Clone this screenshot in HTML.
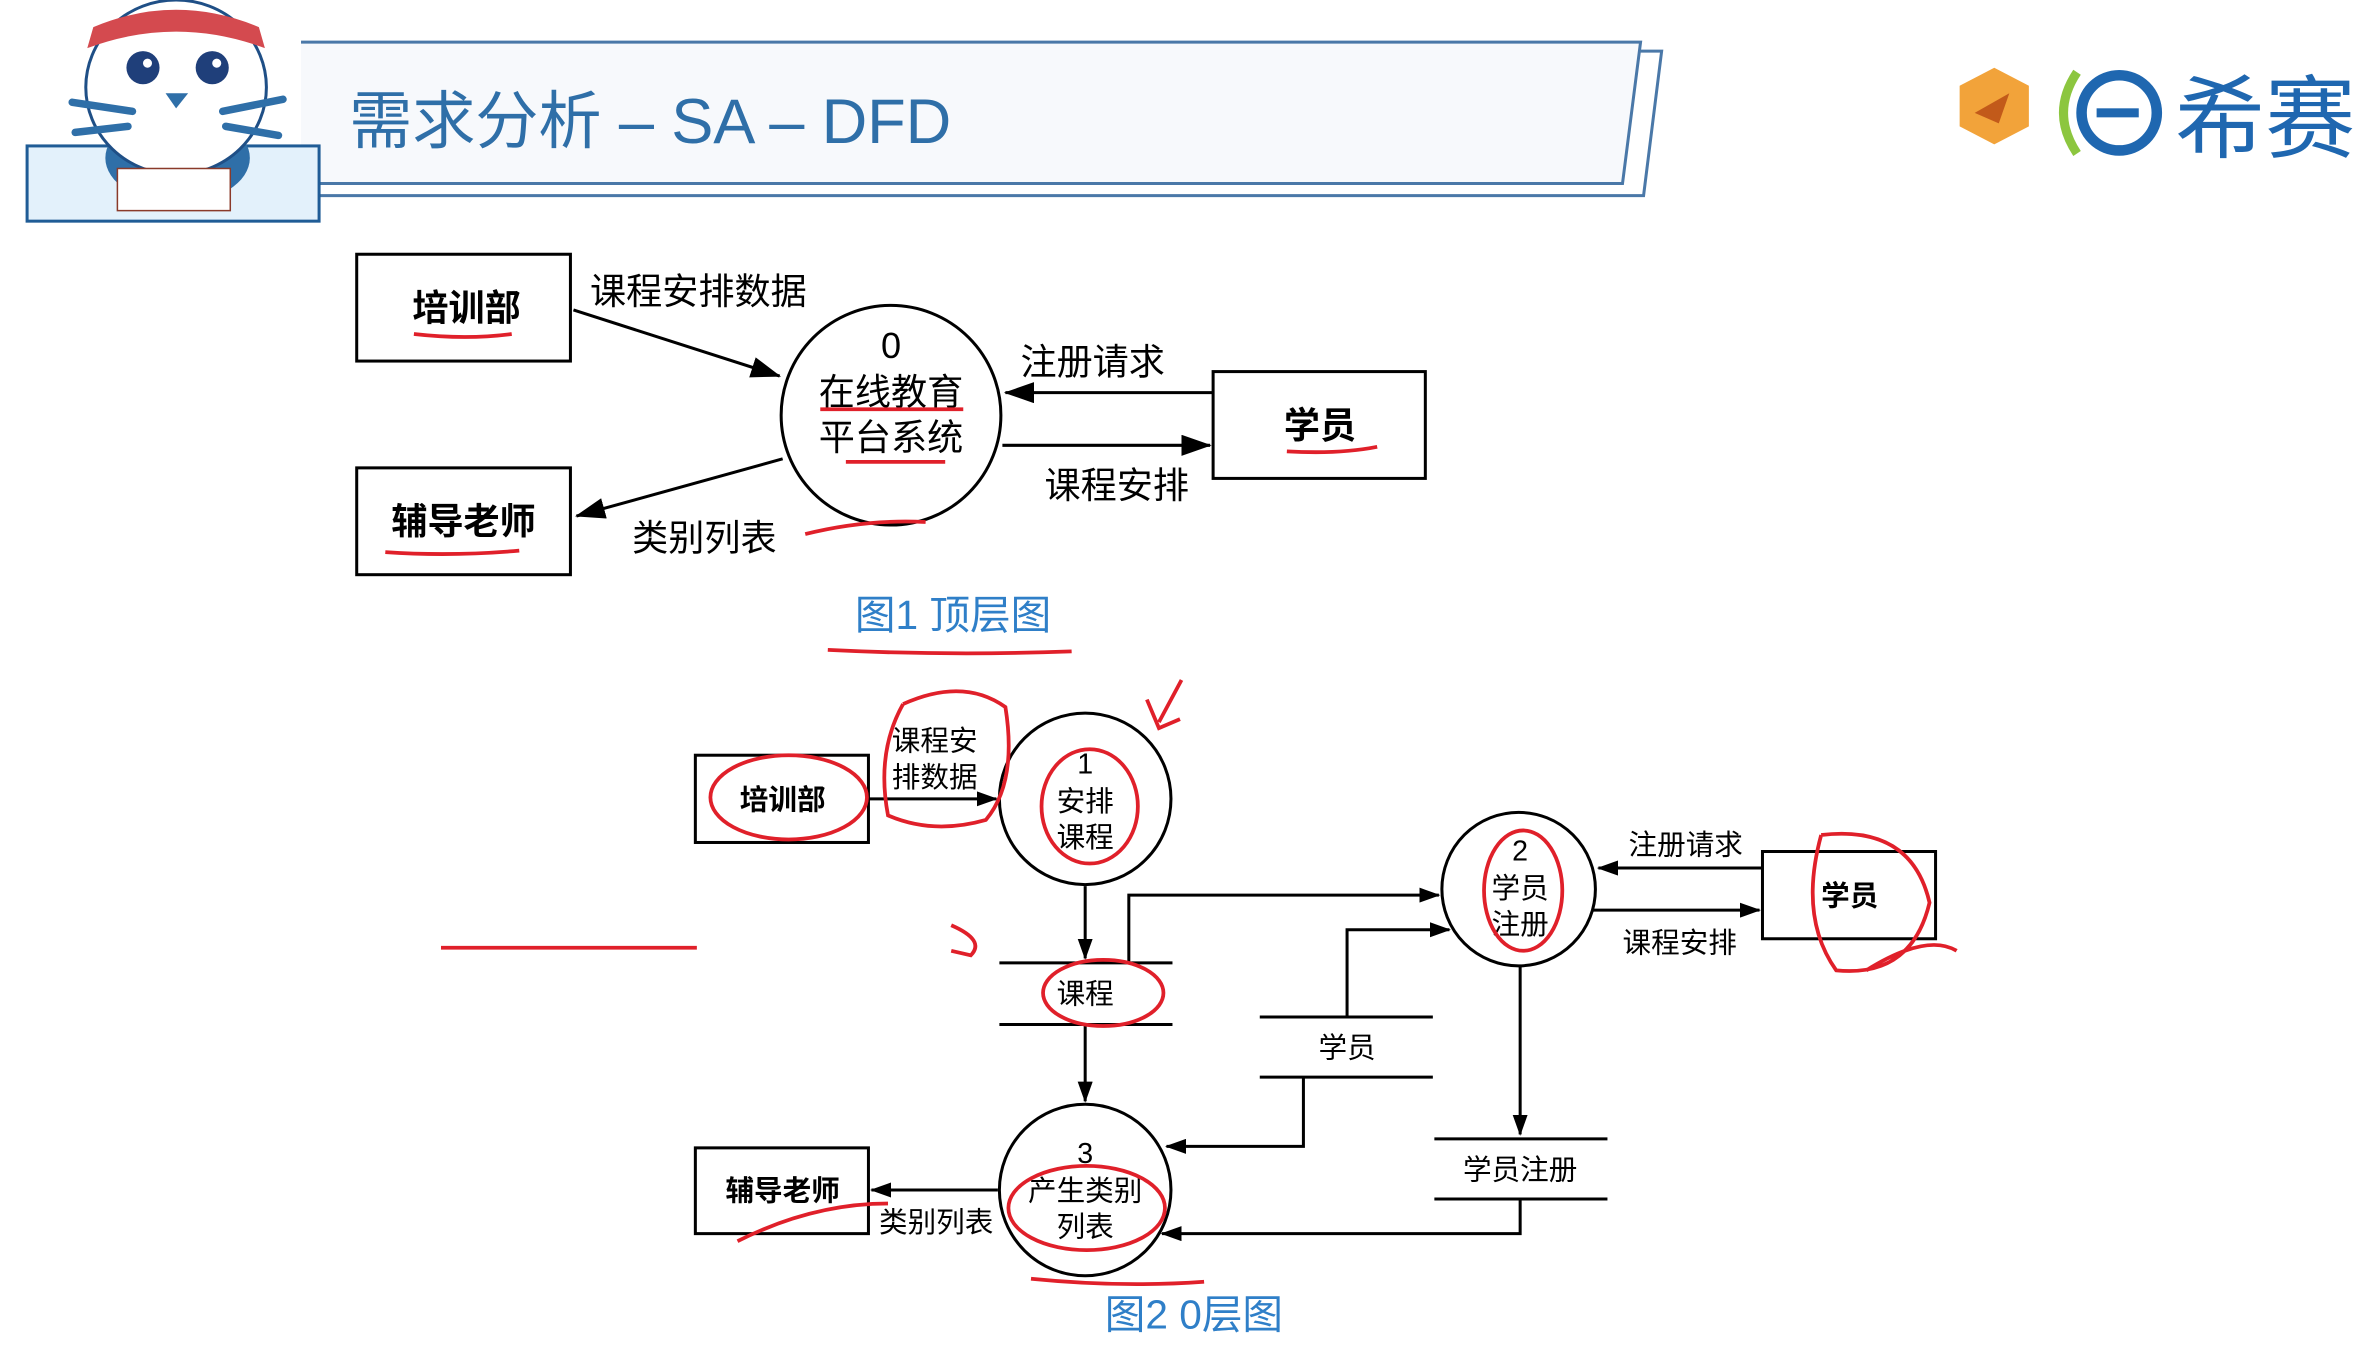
<!DOCTYPE html>
<html><head><meta charset="utf-8"><style>
html,body{margin:0;padding:0;background:#fff;}
svg{display:block;}
text{font-family:"Liberation Sans","Noto Sans CJK SC",sans-serif;}
</style></head><body>
<svg width="2360" height="1360" viewBox="0 0 1568 904" preserveAspectRatio="none" xmlns="http://www.w3.org/2000/svg">
<defs>
<marker id="a" markerWidth="14" markerHeight="10" refX="13" refY="5" orient="auto" markerUnits="userSpaceOnUse"><path d="M0,0 L14,5 L0,10 z" fill="#000"/></marker>
<marker id="b" markerWidth="20" markerHeight="14" refX="19" refY="7" orient="auto" markerUnits="userSpaceOnUse"><path d="M0,0 L20,7 L0,14 z" fill="#000"/></marker>
</defs>
<rect width="1568" height="904" fill="#fff"/>
<!-- header -->
<path d="M200,28 L1090,28 L1078,122 L200,122" fill="#f7f9fc" stroke="#4a78a8" stroke-width="2"/>
<path d="M1090,34 L1104,34 L1092,130 L200,130" fill="none" stroke="#4a78a8" stroke-width="2"/>
<text x="232" y="95" font-size="42" fill="#2f6fa8" textLength="400">需求分析 – SA – DFD</text>
<!-- mascot -->
<rect x="18" y="97" width="194" height="50" fill="#e3f1fb" stroke="#1f5c96" stroke-width="2"/>
<ellipse cx="118" cy="105" rx="48" ry="30" fill="#2f6fa8"/>
<ellipse cx="117" cy="58" rx="60" ry="58" fill="#fff" stroke="#1f4f86" stroke-width="2"/>
<path d="M62,18 Q117,-5 172,18 L176,32 Q117,10 58,32 z" fill="#d44a4f"/>
<circle cx="95" cy="45" r="11" fill="#1f3f7a"/><circle cx="141" cy="45" r="11" fill="#1f3f7a"/>
<circle cx="98" cy="42" r="3" fill="#fff"/><circle cx="144" cy="42" r="3" fill="#fff"/>
<path d="M110,62 L125,62 L117,72 z" fill="#2f6fa8"/>
<path d="M48,68 L88,74 M50,88 L85,84 M148,74 L188,66 M150,84 L185,90" stroke="#2f6fa8" stroke-width="5" stroke-linecap="round"/>
<rect x="78" y="112" width="75" height="28" fill="#fff" stroke="#8a3a2a"/>
<!-- logo -->
<polygon points="1325,45 1348,57 1348,84 1325,96 1302,84 1302,57" fill="#f2a33a"/>
<path d="M1312,75 L1335,62 L1328,82 z" fill="#c25a1a"/>
<path d="M1380,48 Q1362,75 1380,102" fill="none" stroke="#8cc63f" stroke-width="6"/>
<circle cx="1408" cy="75" r="25" fill="none" stroke="#1f67b0" stroke-width="7"/>
<rect x="1393" y="72" width="28" height="6" fill="#1f67b0"/>
<text x="1445" y="100" font-size="60" fill="#1f67b0">希赛</text>

<!-- Diagram 1 -->
<g stroke="#000" stroke-width="2" fill="none">
<rect x="237" y="169" width="142" height="71"/>
<rect x="237" y="311" width="142" height="71"/>
<rect x="806" y="247" width="141" height="71"/>
<circle cx="592" cy="276" r="73"/>
<line x1="381" y1="206" x2="518" y2="250" marker-end="url(#b)"/>
<line x1="520" y1="305" x2="383" y2="343" marker-end="url(#b)"/>
<line x1="806" y1="261" x2="668" y2="261" marker-end="url(#b)"/>
<line x1="666" y1="296" x2="804" y2="296" marker-end="url(#b)"/>
</g>
<g font-size="24" text-anchor="middle">
<text x="310" y="213" font-weight="bold">培训部</text>
<text x="308" y="355" font-weight="bold">辅导老师</text>
<text x="877" y="291" font-weight="bold">学员</text>
<text x="592" y="238">0</text>
<text x="592" y="269">在线教育</text>
<text x="592" y="299">平台系统</text>
</g>
<g font-size="24">
<text x="392" y="202">课程安排数据</text>
<text x="420" y="366">类别列表</text>
<text x="678" y="249">注册请求</text>
<text x="694" y="331">课程安排</text>
</g>
<text x="568" y="418" font-size="27" fill="#2f7fc8">图1 顶层图</text>

<!-- Diagram 2 -->
<g stroke="#000" stroke-width="2" fill="none">
<rect x="462" y="502" width="115" height="58"/>
<rect x="462" y="763" width="115" height="57"/>
<rect x="1171" y="566" width="115" height="58"/>
<circle cx="721" cy="531" r="57"/>
<circle cx="1009" cy="591" r="51"/>
<circle cx="721" cy="791" r="57"/>
<line x1="664" y1="640" x2="779" y2="640"/><line x1="664" y1="681" x2="779" y2="681"/>
<line x1="837" y1="676" x2="952" y2="676"/><line x1="837" y1="716" x2="952" y2="716"/>
<line x1="953" y1="757" x2="1068" y2="757"/><line x1="953" y1="797" x2="1068" y2="797"/>
<line x1="577" y1="531" x2="662" y2="531" marker-end="url(#a)"/>
<line x1="1171" y1="577" x2="1062" y2="577" marker-end="url(#a)"/>
<line x1="1058" y1="605" x2="1169" y2="605" marker-end="url(#a)"/>
<line x1="721" y1="589" x2="721" y2="637" marker-end="url(#a)"/>
<line x1="721" y1="681" x2="721" y2="732" marker-end="url(#a)"/>
<polyline points="750,640 750,595 956,595" marker-end="url(#a)"/>
<polyline points="895,676 895,618 963,618" marker-end="url(#a)"/>
<polyline points="866,716 866,762 775,762" marker-end="url(#a)"/>
<line x1="1010" y1="642" x2="1010" y2="754" marker-end="url(#a)"/>
<polyline points="1010,797 1010,820 772,820" marker-end="url(#a)"/>
<line x1="663" y1="791" x2="579" y2="791" marker-end="url(#a)"/>
</g>
<g font-size="19" text-anchor="middle">
<text x="520" y="538" font-weight="bold">培训部</text>
<text x="520" y="798" font-weight="bold">辅导老师</text>
<text x="1229" y="602" font-weight="bold">学员</text>
<text x="721" y="514">1</text><text x="721" y="539">安排</text><text x="721" y="563">课程</text>
<text x="1010" y="572">2</text><text x="1010" y="597">学员</text><text x="1010" y="621">注册</text>
<text x="721" y="773">3</text><text x="721" y="798">产生类别</text><text x="721" y="822">列表</text>
<text x="721" y="667">课程</text>
<text x="895" y="703">学员</text>
<text x="1010" y="784">学员注册</text>
<text x="621" y="499">课程安</text><text x="621" y="523">排数据</text>
<text x="1120" y="568">注册请求</text>
<text x="1116" y="633">课程安排</text>
<text x="622" y="819">类别列表</text>
</g>
<text x="734" y="883" font-size="27" fill="#2f7fc8">图2 0层图</text>

<!-- red annotations -->
<g stroke="#e0202a" stroke-width="2.5" fill="none">
<path d="M275,222 Q310,226 340,222"/>
<path d="M855,300 Q890,302 915,297"/>
<path d="M256,367 Q300,370 345,366"/>
<path d="M545,272 L640,272"/><path d="M562,307 L628,307"/>
<path d="M535,355 Q575,345 615,347"/>
<path d="M550,432 Q630,436 712,433"/>
<ellipse cx="524" cy="530" rx="52" ry="28"/>
<path d="M600,468 Q640,450 668,470 Q676,520 655,545 Q620,555 590,542 Q582,500 600,468"/>
<ellipse cx="724" cy="536" rx="32" ry="38"/>
<path d="M770,480 L785,452 M762,465 L770,484 L784,478"/>
<ellipse cx="1012" cy="592" rx="26" ry="40"/>
<path d="M1210,555 Q1270,548 1282,600 Q1270,650 1220,645 Q1195,610 1210,555 M1240,645 Q1280,620 1300,632"/>
<ellipse cx="733" cy="660" rx="40" ry="22"/>
<path d="M632,615 Q655,625 645,635 L632,632"/>
<path d="M293,630 L463,630"/>
<ellipse cx="722" cy="803" rx="52" ry="28"/>
<path d="M490,825 Q540,800 590,800"/>
<path d="M685,850 Q745,856 800,852"/>
</g>
</svg>
</body></html>
